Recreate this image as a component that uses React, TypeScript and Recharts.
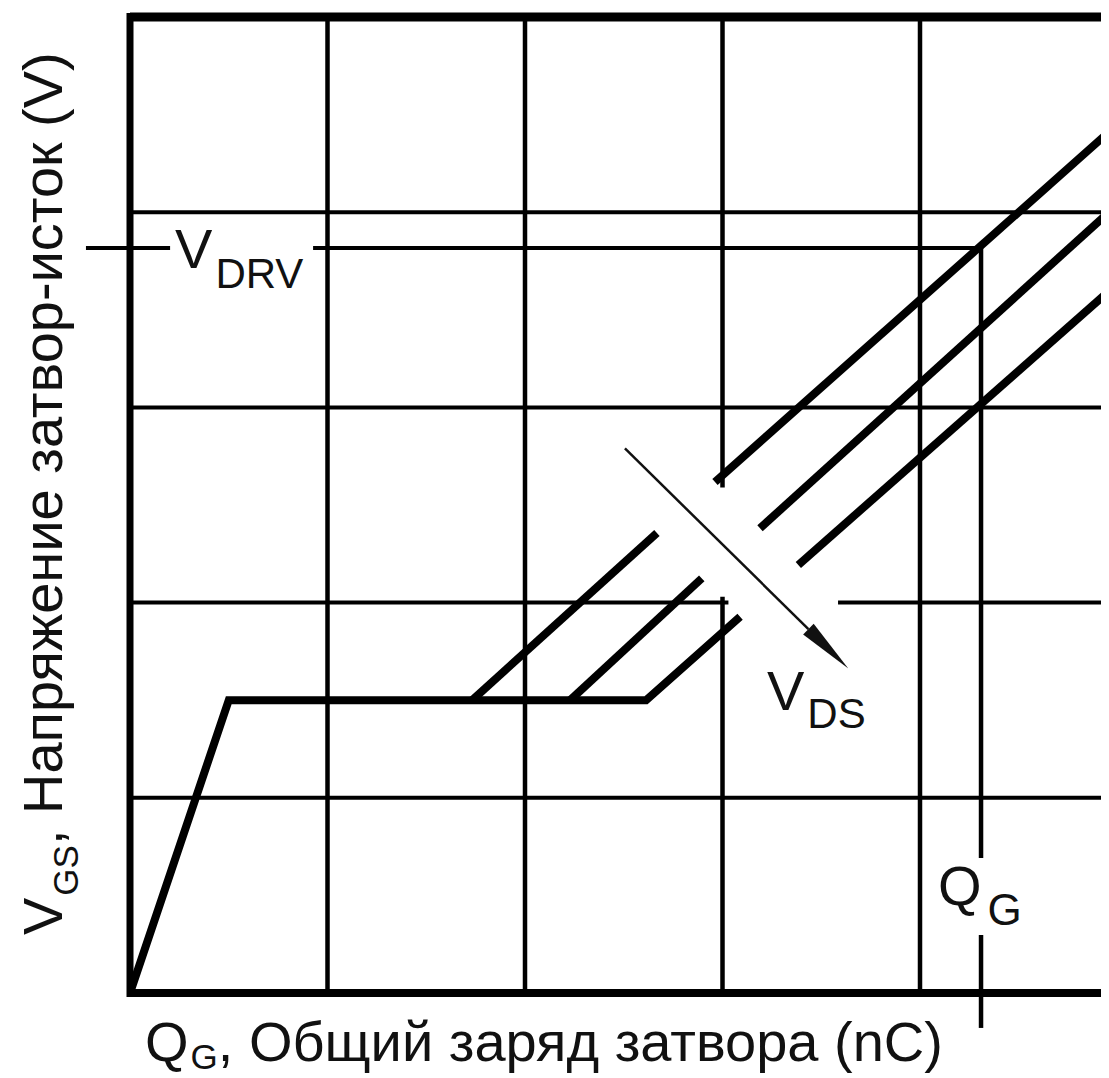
import React from 'react';
import { ComposedChart, Line, XAxis, YAxis, ReferenceLine, ReferenceDot } from 'recharts';

// Schematic gate-charge diagram. Units: one grid cell = 1 on each axis.
const X_DOMAIN = [0, 5];
const Y_DOMAIN = [0, 5];

// Grid lines (full length)
const gridXFull = [1, 2, 4];
const gridYFull = [1, 3, 4];
// Grid lines interrupted around the V_DS arrow crossing
const gridXBroken = { x: 3, segments: [[0, 2.03], [2.59, 5]] };
const gridYBroken = { y: 2, segments: [[0, 3.03], [3.585, 5]] };

// V_GS curve: linear rise, Miller plateau, then rise (lowest V_DS)
const vgsCurve = [
  { x: 0, y: 0 },
  { x: 0.5, y: 1.5 },
  { x: 2.613, y: 1.5 },
  { x: 3.089, y: 1.928 },
];
const vgsLowUpper = [
  { x: 3.384, y: 2.193 },
  { x: 5, y: 3.634 },
];
// Middle V_DS
const vgsMidLower = [
  { x: 2.228, y: 1.5 },
  { x: 2.895, y: 2.124 },
];
const vgsMidUpper = [
  { x: 3.19, y: 2.381 },
  { x: 5, y: 4.04 },
];
// Highest V_DS
const vgsHighLower = [
  { x: 1.732, y: 1.5 },
  { x: 2.668, y: 2.357 },
];
const vgsHighUpper = [
  { x: 2.962, y: 2.618 },
  { x: 5, y: 4.45 },
];

// Markers
const VDRV = 3.817;
const QG = 4.309;
const vdrvSegments = [[-0.223, 0.203], [0.927, QG]];
const qgSegments = [[3.822, 0.692], [0.297, -0.179]];
const vdsArrow = [{ x: 2.506, y: 2.79 }, { x: 3.637, y: 1.663 }];

// Text labels (position in data units)
const labelVdrv = { x: 0.228, y: 3.714, main: 'V', sub: 'DRV' };
const labelVds = { x: 3.225, y: 1.45, main: 'V', sub: 'DS' };
const labelQg = { x: 4.091, y: 0.451, main: 'Q', sub: 'G' };
const xAxisTitle = { x: 0.076, y: -0.348, main: 'Q', sub: 'G', rest: ', Общий заряд затвора (nC)' };
const yAxisTitle = { x: -0.344, y: 0.297, main: 'V', sub: 'GS', rest: ', Напряжение затвор-исток (V)' };

const FONT = '"Liberation Sans", Arial, Helvetica, sans-serif';
const INK = '#111';
const MAIN_SIZE = 56;

const ArrowShape = (p: any) => {
  const { x1, y1, x2, y2 } = p;
  const dx = x2 - x1;
  const dy = y2 - y1;
  const len = Math.sqrt(dx * dx + dy * dy);
  const ux = dx / len;
  const uy = dy / len;
  const headLen = 56;
  const headHalf = 7.5;
  const bx = x2 - ux * headLen;
  const by = y2 - uy * headLen;
  const px = -uy;
  const py = ux;
  return (
    <g>
      <line x1={x1} y1={y1} x2={bx} y2={by} stroke={INK} strokeWidth={2.5} />
      <polygon
        points={`${x2},${y2} ${bx + px * headHalf},${by + py * headHalf} ${bx - px * headHalf},${by - py * headHalf}`}
        fill={INK}
      />
    </g>
  );
};

const subLabel = (main: string, sub: string, mainSize: number, subSize: number, subDy: number, subDx: number) => (p: any) => (
  <text x={p.cx} y={p.cy} fontFamily={FONT} fontSize={mainSize} fill={INK}>
    {main}
    <tspan fontSize={subSize} dx={subDx} dy={subDy}>{sub}</tspan>
  </text>
);

const XTitle = (p: any) => (
  <text x={p.cx} y={p.cy} fontFamily={FONT} fontSize={MAIN_SIZE} fill={INK}>
    {xAxisTitle.main}
    <tspan fontSize={35} dx={2} dy={8}>{xAxisTitle.sub}</tspan>
    <tspan dy={-8}>{xAxisTitle.rest}</tspan>
  </text>
);

const YTitle = (p: any) => (
  <text
    x={p.cx}
    y={p.cy}
    fontFamily={FONT}
    fontSize={MAIN_SIZE}
    fill={INK}
    transform={`rotate(-90, ${p.cx}, ${p.cy})`}
  >
    {yAxisTitle.main}
    <tspan fontSize={35} dx={2} dy={16}>{yAxisTitle.sub}</tspan>
    <tspan dy={-16}>{yAxisTitle.rest}</tspan>
  </text>
);

const lineProps = {
  type: 'linear' as const,
  dataKey: 'y',
  stroke: '#000',
  strokeWidth: 8,
  dot: false,
  activeDot: false,
  isAnimationActive: false,
  legendType: 'none' as const,
};

export default function App() {
  return (
    <div style={{ width: 1101, height: 1070, overflow: 'hidden' }}>
      <style>{'html,body{overflow:hidden;}'}</style>
      <ComposedChart width={1120} height={1070} margin={{ top: 9, right: 10.5, bottom: 85, left: 122 }}>
        <XAxis type="number" dataKey="x" domain={X_DOMAIN} hide height={0} allowDataOverflow />
        <YAxis type="number" dataKey="y" domain={Y_DOMAIN} hide width={0} allowDataOverflow />

        {gridXFull.map((x) => (
          <ReferenceLine key={'gx' + x} segment={[{ x, y: 0 }, { x, y: 5 }]} stroke="#000" strokeWidth={4.5} ifOverflow="visible" />
        ))}
        {gridXBroken.segments.map((s, i) => (
          <ReferenceLine key={'gxb' + i} segment={[{ x: gridXBroken.x, y: s[0] }, { x: gridXBroken.x, y: s[1] }]} stroke="#000" strokeWidth={4.5} ifOverflow="visible" />
        ))}
        {gridYFull.map((y) => (
          <ReferenceLine key={'gy' + y} segment={[{ x: 0, y }, { x: 5, y }]} stroke="#000" strokeWidth={4} ifOverflow="visible" />
        ))}
        {gridYBroken.segments.map((s, i) => (
          <ReferenceLine key={'gyb' + i} segment={[{ x: s[0], y: gridYBroken.y }, { x: s[1], y: gridYBroken.y }]} stroke="#000" strokeWidth={4} ifOverflow="visible" />
        ))}

        {/* frame */}
        <ReferenceLine segment={[{ x: 0, y: 5 }, { x: 5, y: 5 }]} stroke="#000" strokeWidth={9} ifOverflow="visible" />
        <ReferenceLine segment={[{ x: 0, y: 0 }, { x: 5, y: 0 }]} stroke="#000" strokeWidth={8} ifOverflow="visible" />
        <ReferenceLine segment={[{ x: 0, y: -0.02 }, { x: 0, y: 5.02 }]} stroke="#000" strokeWidth={7} ifOverflow="visible" />
        <ReferenceLine segment={[{ x: 5, y: 0 }, { x: 5, y: 5 }]} stroke="#000" strokeWidth={9} ifOverflow="visible" />

        {/* V_DRV and Q_G markers */}
        {vdrvSegments.map((s, i) => (
          <ReferenceLine key={'vd' + i} segment={[{ x: s[0], y: VDRV }, { x: s[1], y: VDRV }]} stroke="#000" strokeWidth={4} ifOverflow="visible" />
        ))}
        {qgSegments.map((s, i) => (
          <ReferenceLine key={'qg' + i} segment={[{ x: QG, y: s[0] }, { x: QG, y: s[1] }]} stroke="#000" strokeWidth={4.5} ifOverflow="visible" />
        ))}

        {/* curves */}
        <Line data={vgsCurve} {...lineProps} />
        <Line data={vgsLowUpper} {...lineProps} />
        <Line data={vgsMidLower} {...lineProps} />
        <Line data={vgsMidUpper} {...lineProps} />
        <Line data={vgsHighLower} {...lineProps} />
        <Line data={vgsHighUpper} {...lineProps} />

        {/* V_DS arrow */}
        <ReferenceLine segment={vdsArrow} stroke={INK} ifOverflow="visible" shape={ArrowShape} />

        {/* labels */}
        <ReferenceDot x={labelVdrv.x} y={labelVdrv.y} ifOverflow="visible" shape={subLabel(labelVdrv.main, labelVdrv.sub, MAIN_SIZE, 42, 20, 3)} />
        <ReferenceDot x={labelVds.x} y={labelVds.y} ifOverflow="visible" shape={subLabel(labelVds.main, labelVds.sub, MAIN_SIZE, 42, 18, 3)} />
        <ReferenceDot x={labelQg.x} y={labelQg.y} ifOverflow="visible" shape={subLabel(labelQg.main, labelQg.sub, MAIN_SIZE, 44, 20, 6)} />
        <ReferenceDot x={xAxisTitle.x} y={xAxisTitle.y} ifOverflow="visible" shape={XTitle} />
        <ReferenceDot x={yAxisTitle.x} y={yAxisTitle.y} ifOverflow="visible" shape={YTitle} />
      </ComposedChart>
    </div>
  );
}
